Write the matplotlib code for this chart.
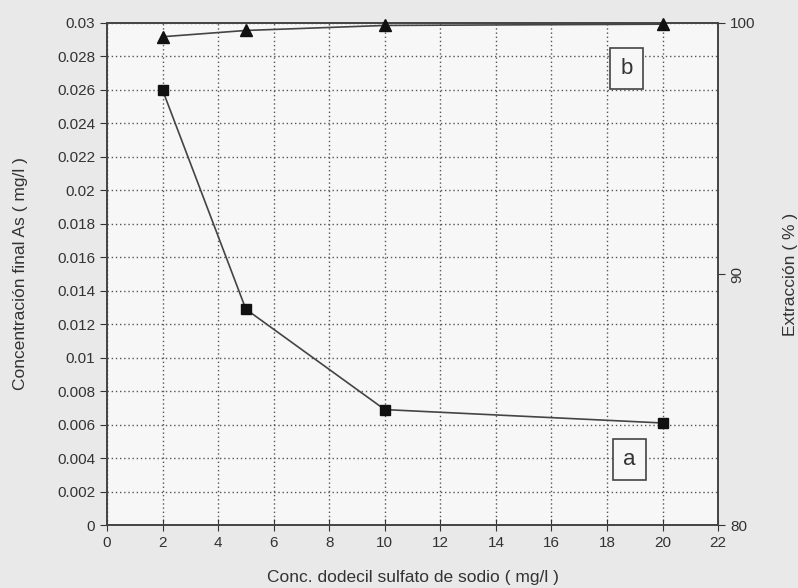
import matplotlib
matplotlib.use("Agg")
import matplotlib.pyplot as plt

x_a = [2, 5, 10, 20]
conc_a = [0.026, 0.0129, 0.0069, 0.0061]
x_b = [2, 5, 10, 20]
extr_b = [99.45, 99.7, 99.9, 99.95]
left_ticks = [0, 0.002, 0.004, 0.006, 0.008, 0.01, 0.012, 0.014, 0.016, 0.018,
              0.02, 0.022, 0.024, 0.026, 0.028, 0.03]
left_labels = ["0", "0.002", "0.004", "0.006", "0.008", "0.01", "0.012", "0.014",
               "0.016", "0.018", "0.02", "0.022", "0.024", "0.026", "0.028", "0.03"]
x_ticks = list(range(0, 23, 2))
right_ticks = [80, 90, 100]

plt.rcParams['font.family'] = ['Liberation Sans', 'DejaVu Sans']
fig = plt.figure(figsize=(7.98, 5.88), dpi=100, facecolor='#e9e9e9')
ax = fig.add_axes([0.134, 0.107, 0.766, 0.854])
ax.set_facecolor('#f7f7f7')
ax.set_xlim(0, 22)
ax.set_ylim(0, 0.03)
ax.set_xticks(x_ticks)
ax.set_yticks(left_ticks)
ax.set_yticklabels(left_labels)
ax.grid(True, linestyle=(0, (1, 2)), color='#555555', linewidth=1.0)
ax.tick_params(axis='both', labelsize=11, colors='#333333', length=5)
ax.tick_params(axis='x', direction='inout', length=8)
for s in ax.spines.values():
    s.set_color('#444444')
    s.set_linewidth(1.2)
ax.plot(x_a, conc_a, color='#444444', linewidth=1.2, marker='s', markersize=6.5,
        markerfacecolor='#111111', markeredgecolor='#111111', clip_on=False, zorder=5)
ax.set_xlabel("Conc. dodecil sulfato de sodio ( mg/l )", fontsize=12.5, color='#333333', labelpad=15)
ax.set_ylabel("Concentración final As ( mg/l )", fontsize=12.5, color='#333333', labelpad=21)

ax2 = ax.twinx()
ax2.set_ylim(80, 100)
ax2.set_yticks(right_ticks)
ax2.set_yticklabels(["80", "90", "100"])
for lbl in ax2.get_yticklabels():
    if lbl.get_text() == "90":
        lbl.set_rotation(90)
        lbl.set_va('center')
ax2.tick_params(axis='y', labelsize=11, colors='#333333', length=5)
for s in ax2.spines.values():
    s.set_color('#444444')
    s.set_linewidth(1.2)
ax2.plot(x_b, extr_b, color='#444444', linewidth=1.2, marker='^', markersize=8,
         markerfacecolor='#111111', markeredgecolor='#111111', clip_on=False, zorder=5)
ax2.set_ylabel("Extracción ( % )", fontsize=12.5, color='#333333', labelpad=20)

ax.text(18.7, 0.0273, "b", fontsize=16, ha='center', va='center', color='#333333',
        bbox=dict(boxstyle='square,pad=0.45', facecolor='#f7f7f7', edgecolor='#444444', linewidth=1.2))
ax.text(18.8, 0.0039, "a", fontsize=16, ha='center', va='center', color='#333333',
        bbox=dict(boxstyle='square,pad=0.45', facecolor='#f7f7f7', edgecolor='#444444', linewidth=1.2))

fig.savefig("out.png", dpi=100, facecolor=fig.get_facecolor())
